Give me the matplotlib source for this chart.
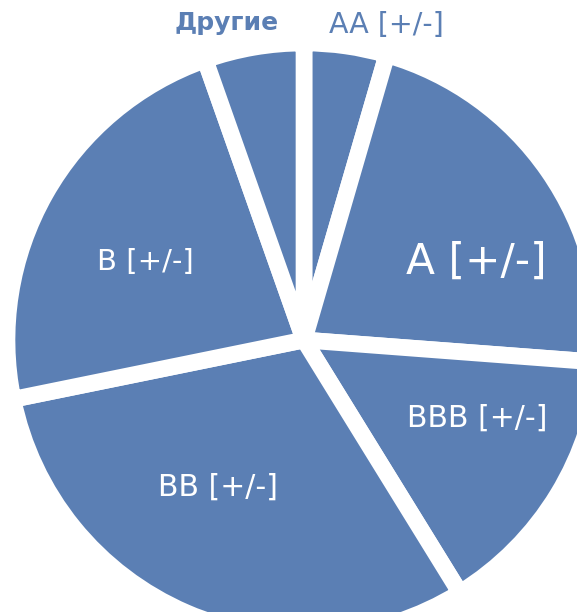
import matplotlib.pyplot as plt

plt.rcParams['font.family'] = ['DejaVu Sans']

# ----------- DATA ------------
labels = ["AA [+/-]", "A [+/-]", "BBB [+/-]", "BB [+/-]", "B [+/-]", "Другие"]
shares = [4.5, 21.7, 15.0, 30.6, 22.8, 5.4]

BLUE = "#5b7fb4"

# ----------- FIGURE ------------
fig = plt.figure(figsize=(5.77, 6.12), dpi=100)
ax = fig.add_axes([0, 0, 1, 1])

ax.pie(shares, startangle=90, counterclock=False, colors=[BLUE] * len(shares),
       center=(304, 272), radius=297,
       wedgeprops=dict(edgecolor="white", linewidth=12, joinstyle="round"))

# pie resets the limits, so set them afterwards
ax.set_xlim(0, 577)
ax.set_ylim(0, 612)
ax.set_aspect("equal")
ax.axis("off")

# labels inside the slices
ax.text(476, 350, labels[1], color="white", fontsize=30.5, ha="center", va="center")
ax.text(477, 194, labels[2], color="white", fontsize=21.5, ha="center", va="center")
ax.text(218, 125, labels[3], color="white", fontsize=21.5, ha="center", va="center")
ax.text(145, 350, labels[4], color="white", fontsize=21, ha="center", va="center")

# labels above the pie
ax.text(227, 589, labels[5], color=BLUE, fontsize=18, fontweight="bold", ha="center", va="center")
ax.text(386, 587, labels[0], color=BLUE, fontsize=20.5, ha="center", va="center")

fig.savefig("out.png", dpi=100)
